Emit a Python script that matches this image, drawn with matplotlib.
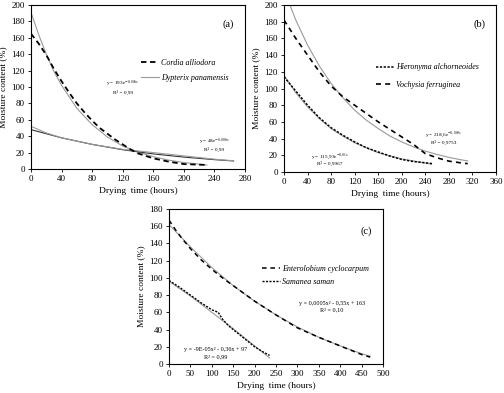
import matplotlib
matplotlib.use("Agg")
import matplotlib.pyplot as plt

plt.rcParams['font.family'] = ['Liberation Serif', 'DejaVu Serif']
plt.rcParams['mathtext.fontset'] = 'stix'

# ---- panel (a) ----
cordia_x = [0, 10, 20, 30, 40, 50, 60, 70, 80, 90, 100, 110, 120, 130, 140, 160, 180, 200, 228]
cordia_y = [165, 153, 139, 122, 107, 93, 80, 69, 59, 50, 43, 36, 30, 24, 19, 13, 9, 6, 5]
cordia_fit_x = [0, 10, 20, 30, 40, 60, 80, 100, 120, 140, 160, 180, 200, 230]
cordia_fit_y = [191, 164, 140, 119, 102, 74, 54, 39, 28, 20.6, 15, 10.8, 7.9, 4.9]
dypterix_x = [0, 20, 40, 60, 80, 100, 120, 140, 160, 180, 200, 220, 240, 265]
dypterix_y = [52, 44, 38, 34, 30, 27, 24, 22, 20, 18, 16, 14, 12, 10]
dypterix_fit_x = [0, 40, 80, 120, 160, 200, 240, 265]
dypterix_fit_y = [48, 38, 30, 23.5, 18.4, 14.5, 11.4, 9.8]

# ---- panel (b) ----
hiero_x = [0, 20, 40, 60, 80, 100, 120, 140, 160, 180, 200, 220, 240, 252]
hiero_y = [114, 97, 80, 65, 53, 44, 36, 29, 24, 19, 15, 12.5, 11, 10]
hiero_fit_x = [0, 20, 40, 60, 80, 100, 120, 160, 200, 250]
hiero_fit_y = [116, 95, 78, 64, 52, 43, 35, 23, 15.7, 9.5]
voch_x = [0, 20, 40, 60, 80, 100, 120, 140, 160, 180, 200, 220, 240, 260, 280, 300, 312]
voch_y = [182, 160, 140, 120, 103, 90, 80, 70, 60, 51, 42, 33, 22, 17, 13, 11, 10]
voch_fit_x = [0, 10, 20, 40, 60, 80, 100, 120, 140, 160, 180, 200, 220, 240, 260, 280, 300, 312]
voch_fit_y = [218.6, 200, 182, 152, 127, 106, 89, 74, 62, 52, 43, 36, 30, 25, 21, 17.5, 14.7, 13.3]

# ---- panel (c) ----
entero_x = [0, 15, 30, 50, 75, 100, 125, 150, 200, 250, 300, 350, 400, 450, 470]
entero_y = [167, 156, 146, 134, 121, 110, 100, 91, 73, 57, 42, 31, 21, 11, 8]
entero_fit_x = [0, 50, 100, 150, 200, 250, 300, 350, 400, 450, 470]
entero_fit_y = [162, 136, 112, 91, 73, 57, 43, 31, 21, 12, 9]
saman_x = [0, 25, 50, 75, 100, 115, 125, 140, 160, 180, 200, 220, 235]
saman_y = [97, 89, 80, 71, 63, 60, 52, 44, 36, 28, 20, 14, 10]
saman_fit_x = [0, 50, 100, 150, 200, 235]
saman_fit_y = [96, 79, 60, 41, 21, 7]

W, H = 504, 393
fig = plt.figure(figsize=(W / 100, H / 100), dpi=100)


def px_axes(left, top, right, bottom):
    return fig.add_axes([left / W, 1 - bottom / H, (right - left) / W, (bottom - top) / H])


def style(ax, xmax, xstep, ymax, ystep):
    ax.set_xlim(0, xmax)
    ax.set_ylim(0, ymax)
    ax.set_xticks(range(0, xmax + 1, xstep))
    ax.set_yticks(range(0, ymax + 1, ystep))
    ax.tick_params(direction='out', length=2.5, width=0.6, labelsize=6.5, pad=2)
    for s in ax.spines.values():
        s.set_linewidth(0.8)
    ax.set_xlabel('Drying  time (hours)', fontsize=6.8, labelpad=3)
    ax.set_ylabel('Moisture content (%)', fontsize=6.8, labelpad=3)


gray = '#9a9a9a'
small = 3.8

ax1 = px_axes(31, 5, 245, 169)
ax1.plot(cordia_fit_x, cordia_fit_y, color=gray, lw=0.8)
ax1.plot(dypterix_fit_x, dypterix_fit_y, color='#333333', lw=0.8)
ax1.plot(dypterix_x, dypterix_y, color=gray, lw=0.8, label='Dypterix panamensis')
ax1.plot(cordia_x, cordia_y, color='black', lw=1.3, ls=(0, (3, 2)), label='Cordia alliodora')
style(ax1, 280, 40, 200, 20)
ax1.text(0.95, 0.87, '(a)', transform=ax1.transAxes, fontsize=7.5, ha='right')
h, l = ax1.get_legend_handles_labels()
ax1.legend(h[::-1], l[::-1], loc='upper left', bbox_to_anchor=(0.5, 0.69), frameon=False,
           prop={'style': 'italic', 'size': 5.8}, handlelength=2.2, handletextpad=0.3,
           labelspacing=0.8, borderaxespad=0)
ax1.text(120, 101, 'y = 193e$^{-0,016x}$', fontsize=small, ha='center')
ax1.text(120, 92, 'R² = 0,99', fontsize=small, ha='center')
ax1.text(240, 31, 'y = 48e$^{-0,006x}$', fontsize=small, ha='center')
ax1.text(240, 22, 'R² = 0,99', fontsize=small, ha='center')

ax2 = px_axes(284, 5, 496, 172)
ax2.plot(voch_fit_x, voch_fit_y, color=gray, lw=0.8)
ax2.plot(hiero_fit_x, hiero_fit_y, color=gray, lw=0.8)
ax2.plot(hiero_x, hiero_y, color='black', lw=1.1, ls=(0, (1.5, 1)), label='Hieronyma alchorneoides')
ax2.plot(voch_x, voch_y, color='black', lw=1.2, ls=(0, (3, 2.5)), label='Vochysia ferruginea')
style(ax2, 360, 40, 200, 20)
ax2.text(0.95, 0.87, '(b)', transform=ax2.transAxes, fontsize=7.5, ha='right')
ax2.legend(loc='upper left', bbox_to_anchor=(0.42, 0.67), frameon=False,
           prop={'style': 'italic', 'size': 5.8}, handlelength=2.2, handletextpad=0.3,
           labelspacing=1.2, borderaxespad=0)
ax2.text(272, 43, 'y = 218,6e$^{-0,009x}$', fontsize=small, ha='center')
ax2.text(272, 34, 'R² = 0,9753', fontsize=small, ha='center')
ax2.text(78, 17, 'y = 115,93e$^{-0,01x}$', fontsize=small, ha='center')
ax2.text(78, 8, 'R² = 0,9967', fontsize=small, ha='center')

ax3 = px_axes(169, 209, 383, 364)
ax3.plot(entero_fit_x, entero_fit_y, color=gray, lw=0.8)
ax3.plot(saman_fit_x, saman_fit_y, color=gray, lw=0.8)
ax3.plot(entero_x, entero_y, color='black', lw=1.1, ls=(0, (3, 2.5)), label='Enterolobium cyclocarpum')
ax3.plot(saman_x, saman_y, color='black', lw=1.0, ls=(0, (1.5, 1)), label='Samanea saman')
style(ax3, 500, 50, 180, 20)
ax3.text(0.95, 0.84, '(c)', transform=ax3.transAxes, fontsize=7.5, ha='right')
ax3.legend(loc='upper left', bbox_to_anchor=(0.42, 0.66), frameon=False,
           prop={'style': 'italic', 'size': 5.8}, handlelength=2.2, handletextpad=0.3,
           labelspacing=0.6, borderaxespad=0)
ax3.text(380, 69, 'y = 0,0005x² - 0,55x + 163', fontsize=small + 0.6, ha='center')
ax3.text(380, 61, 'R² = 0,10', fontsize=small + 0.6, ha='center')
ax3.text(110, 15, 'y = -9E-05x² - 0,36x + 97', fontsize=small + 0.6, ha='center')
ax3.text(110, 7, 'R² = 0,99', fontsize=small + 0.6, ha='center')

fig.savefig('out.png', dpi=100)
